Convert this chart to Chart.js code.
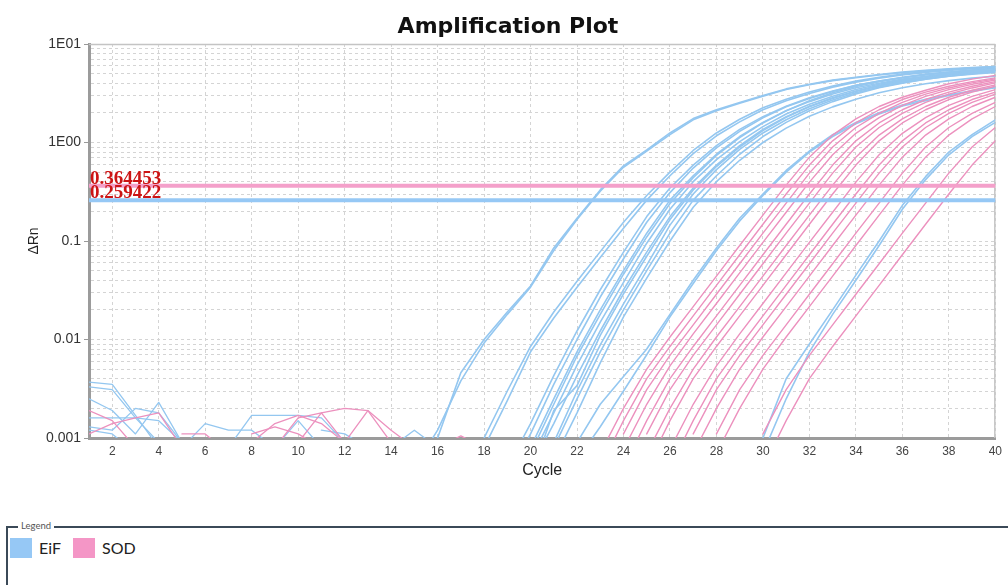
<!DOCTYPE html>
<html>
<head>
<meta charset="utf-8">
<script src="https://cdn.jsdelivr.net/npm/chart.js@4.4.0/dist/chart.umd.min.js"></script>
<style>
  html, body { margin:0; padding:0; background:#fff; width:1008px; height:585px; overflow:hidden; }
  #chartBox { position:absolute; left:0; top:0; width:1008px; height:500px; }
  #lgFrame { position:absolute; left:6px; top:526px; width:1010px; height:70px; border-top:2px solid #3b4a58; border-left:2px solid #3b4a58; }
  #lgTitle { position:absolute; left:18px; top:520px; font:9.5px "Lato", sans-serif; color:#555; background:#fff; padding:0 3px; line-height:12px; }
  .sw { position:absolute; top:538px; width:22px; height:20px; }
  .lt { position:absolute; top:538px; font:16px "Lato", sans-serif; color:#222; line-height:20px; }
</style>
</head>
<body>
<div id="chartBox"><canvas id="c" width="1008" height="500"></canvas></div>
<div id="lgFrame"></div>
<div id="lgTitle">Legend</div>
<div id="lgItems"></div>
<script>
// ---------------- data ----------------
const chartTitle = 'Amplification Plot';
const xTitle = 'Cycle';
const yTitle = '\u0394Rn';
const cycleMin = 1;
const cycleMax = 40;
const xTickValues = [2,4,6,8,10,12,14,16,18,20,22,24,26,28,30,32,34,36,38,40];
const yTickValues = [0.001,0.002,0.003,0.004,0.005,0.006,0.007,0.008,0.009,
                     0.01,0.02,0.03,0.04,0.05,0.06,0.07,0.08,0.09,
                     0.1,0.2,0.3,0.4,0.5,0.6,0.7,0.8,0.9,
                     1,2,3,4,5,6,7,8,9,10];
const yMajorValues = [0.001, 0.01, 0.1, 1, 10];
const yMajorLabels = ['0.001', '0.01', '0.1', '1E00', '1E01'];

const targetNames = ['EiF', 'SOD'];
const thresholdValues = [0.364453, 0.259422];
const thresholdLabels = ['0.364453', '0.259422'];

// EiF amplification curves: first cycle of each curve and its ΔRn values
const eifStart = [15, 15, 18, 18, 19, 19, 19, 19, 20, 20, 20, 20, 20, 21, 22, 22, 30, 30];
const eifValues = [
  [0.0006,0.001,0.0046,0.010,0.019,0.035,0.085,0.17,0.33,0.58,0.84,1.25,1.75,2.15,2.55,3.0,3.5,3.9,4.3,4.6,4.9,5.2,5.4,5.6,5.75,5.9],
  [0.0005,0.0012,0.0038,0.0092,0.018,0.034,0.08,0.165,0.32,0.56,0.82,1.2,1.7,2.1,2.5,2.95,3.45,3.85,4.25,4.55,4.85,5.1,5.35,5.55,5.7,5.85],
  [0.0008,0.0024,0.0075,0.0165,0.034,0.068,0.135,0.26,0.46,0.77,1.17,1.62,2.15,2.65,3.15,3.65,4.1,4.5,4.85,5.15,5.4,5.6,5.8],
  [0.001,0.003,0.0085,0.019,0.039,0.078,0.155,0.29,0.5,0.83,1.25,1.72,2.25,2.75,3.25,3.75,4.2,4.6,4.95,5.25,5.5,5.7,5.9],
  [0.0005,0.0014,0.0043,0.0122,0.032,0.077,0.177,0.345,0.59,0.93,1.36,1.83,2.34,2.84,3.34,3.8,4.2,4.55,4.85,5.1,5.3,5.48],
  [0.0004,0.0011,0.0035,0.01,0.027,0.066,0.155,0.31,0.55,0.88,1.3,1.78,2.3,2.8,3.3,3.8,4.2,4.6,4.95,5.2,5.45,5.65],
  [0.0003,0.0008,0.0025,0.0075,0.02,0.05,0.12,0.26,0.46,0.76,1.15,1.6,2.1,2.6,3.1,3.6,4.0,4.4,4.7,5.0,5.2,5.4],
  [0.0003,0.0007,0.0022,0.0068,0.018,0.046,0.11,0.24,0.44,0.74,1.12,1.58,2.1,2.65,3.2,3.7,4.15,4.55,4.9,5.2,5.45,5.65],
  [0.0006,0.0018,0.0055,0.015,0.038,0.095,0.21,0.4,0.67,1.02,1.45,1.95,2.45,2.95,3.45,3.9,4.3,4.65,4.95,5.2,5.4],
  [0.0005,0.0014,0.0043,0.0122,0.032,0.077,0.177,0.345,0.59,0.93,1.36,1.83,2.34,2.84,3.34,3.8,4.2,4.55,4.85,5.1,5.3],
  [0.0004,0.0019,0.0034,0.011,0.029,0.07,0.165,0.33,0.57,0.9,1.32,1.8,2.3,2.8,3.3,3.75,4.15,4.5,4.85,5.1,5.35],
  [0.0003,0.0009,0.003,0.0088,0.023,0.057,0.145,0.3,0.53,0.85,1.25,1.7,2.2,2.7,3.2,3.65,4.05,4.4,4.7,4.95,5.15],
  [0.0003,0.0008,0.0025,0.0075,0.02,0.05,0.12,0.26,0.46,0.76,1.15,1.6,2.1,2.6,3.1,3.6,4.0,4.4,4.7,5.0,5.2],
  [0.0006,0.0018,0.0058,0.017,0.042,0.1,0.22,0.4,0.66,1.0,1.4,1.85,2.3,2.75,3.2,3.6,3.95,4.25,4.5,4.7],
  [0.0006,0.0013,0.003,0.007,0.017,0.037,0.08,0.16,0.29,0.5,0.8,1.15,1.55,1.95,2.35,2.65,3.0,3.3,3.6],
  [0.0009,0.0022,0.0042,0.008,0.018,0.04,0.085,0.17,0.3,0.52,0.82,1.2,1.6,2.0,2.4,2.75,3.05,3.35,3.65],
  [0.001,0.004,0.009,0.02,0.045,0.1,0.23,0.45,0.8,1.2,1.7],
  [0.0007,0.0025,0.0075,0.018,0.04,0.09,0.21,0.42,0.75,1.15,1.6]
];

// SOD amplification curves
const sodStart = [23, 23, 24, 24, 24, 25, 25, 25, 26, 26, 27, 27, 28, 28, 30, 30];
const sodValues = [
  [0.0007,0.002,0.005,0.0106,0.0216,0.044,0.09,0.183,0.369,0.71,1.19,1.74,2.32,2.88,3.39,3.95,4.4,4.8],
  [0.0005,0.0015,0.004,0.0085,0.0174,0.0355,0.0725,0.148,0.30,0.59,1.04,1.58,2.15,2.73,3.25,3.72,4.15,4.53],
  [0.0011,0.0031,0.0069,0.0141,0.0288,0.0587,0.12,0.242,0.489,0.90,1.42,1.98,2.56,3.10,3.58,4.03,4.43],
  [0.00077,0.0022,0.0054,0.0114,0.0232,0.0474,0.0968,0.196,0.396,0.75,1.24,1.79,2.38,2.94,3.44,3.89,4.31],
  [0.0005,0.0015,0.004,0.0085,0.0174,0.0355,0.0725,0.148,0.30,0.59,1.04,1.58,2.15,2.73,3.25,3.72,4.15],
  [0.0011,0.0031,0.0069,0.0141,0.0288,0.0587,0.12,0.242,0.489,0.90,1.42,1.98,2.56,3.10,3.58,4.03],
  [0.0007,0.002,0.005,0.0106,0.0216,0.044,0.09,0.183,0.369,0.71,1.19,1.74,2.32,2.88,3.39,3.85],
  [0.0005,0.0015,0.004,0.0085,0.0174,0.0355,0.0725,0.148,0.30,0.59,1.04,1.58,2.15,2.73,3.25,3.72],
  [0.00077,0.0022,0.0054,0.0114,0.0232,0.0474,0.0968,0.196,0.396,0.75,1.24,1.79,2.38,2.94,3.44],
  [0.0005,0.0015,0.004,0.0085,0.0174,0.0355,0.0725,0.148,0.30,0.59,1.04,1.58,2.15,2.73,3.25],
  [0.0011,0.0031,0.0069,0.0141,0.0288,0.0587,0.12,0.242,0.489,0.90,1.42,1.98,2.56,3.10],
  [0.0007,0.002,0.005,0.0106,0.0216,0.044,0.09,0.183,0.369,0.71,1.19,1.74,2.32,2.88],
  [0.0011,0.0031,0.0069,0.0141,0.0288,0.0587,0.12,0.242,0.489,0.90,1.42,1.98,2.56],
  [0.0007,0.002,0.005,0.0106,0.0216,0.044,0.09,0.183,0.369,0.71,1.19,1.74,2.32],
  [0.0011,0.0031,0.0069,0.0141,0.0288,0.0587,0.12,0.242,0.489,0.90,1.42],
  [0.0005,0.0015,0.004,0.0085,0.0174,0.0355,0.0725,0.148,0.30,0.59,1.04]
];

// baseline noise segments
const eifNoiseStart = [1, 1, 1, 1, 1, 1, 5, 7, 9, 11, 14];
const eifNoiseValues = [
  [0.0037,0.0035,0.0017,0.0008],
  [0.0033,0.0031,0.0016,0.0009],
  [0.0025,0.0019,0.0011,0.0023,0.0009],
  [0.0016,0.0016,0.0016,0.0015,0.0009],
  [0.0013,0.0012,0.002,0.0018,0.0009],
  [0.0012,0.0011,0.0007],
  [0.0008,0.0014,0.0012,0.0012,0.0008],
  [0.0008,0.0017,0.0017,0.0017,0.0016,0.0009],
  [0.0008,0.0015,0.0008],
  [0.0012,0.0011,0.0008],
  [0.0008,0.0012,0.0008]
];
const sodNoiseStart = [1, 1, 5, 8, 8, 9, 10, 12, 16];
const sodNoiseValues = [
  [0.0019,0.0015,0.0008],
  [0.0011,0.0014,0.0016,0.0018,0.0008],
  [0.0011,0.0011,0.0007],
  [0.0009,0.0014,0.0017,0.0014,0.0009],
  [0.0011,0.0013,0.0011,0.0008],
  [0.0008,0.0016,0.0018,0.002,0.0019,0.0012,0.0008],
  [0.0009,0.0018,0.0009],
  [0.0009,0.0019,0.0009],
  [0.0008,0.00105,0.0008]
];

// ---------------- style ----------------
const eifColor = 'rgb(148,199,240)';
const sodColor = 'rgb(236,145,190)';
const thresholdColors = ['rgb(244,160,202)', 'rgb(150,200,245)'];
const swatchColors = ['rgb(150,200,245)', 'rgb(244,150,198)'];

// ---------------- legend (html) ----------------
(function(){
  const host = document.getElementById('lgItems');
  const sx = [10, 73], tx = [39, 102];
  targetNames.forEach((n, i) => {
    const s = document.createElement('div'); s.className = 'sw';
    s.style.left = sx[i] + 'px'; s.style.background = swatchColors[i]; host.appendChild(s);
    const t = document.createElement('div'); t.className = 'lt';
    t.style.left = tx[i] + 'px'; t.textContent = n; host.appendChild(t);
  });
})();

// ---------------- datasets ----------------
const toPoints = (start, vals) => vals.map((v, j) => ({x: start + j, y: v}));
const datasets = [];
thresholdValues.forEach((t, i) => datasets.push({
  data: [{x: cycleMin, y: t}, {x: cycleMax, y: t}],
  borderColor: thresholdColors[i], borderWidth: 4, order: 0
}));
sodValues.forEach((v, i) => datasets.push({data: toPoints(sodStart[i], v), borderColor: sodColor, borderWidth: 1.4, order: 1}));
sodNoiseValues.forEach((v, i) => datasets.push({data: toPoints(sodNoiseStart[i], v), borderColor: sodColor, borderWidth: 1.3, order: 1}));
eifValues.forEach((v, i) => datasets.push({data: toPoints(eifStart[i], v), borderColor: eifColor, borderWidth: 1.6, order: 2}));
eifNoiseValues.forEach((v, i) => datasets.push({data: toPoints(eifNoiseStart[i], v), borderColor: eifColor, borderWidth: 1.3, order: 2}));

// ---------------- plugins ----------------
const decorations = {
  id: 'decorations',
  beforeDatasetsDraw(chart) {
    const {ctx, chartArea: a} = chart;
    ctx.save();
    ctx.strokeStyle = '#c4c4c4';
    ctx.lineWidth = 1.5;
    ctx.beginPath();
    ctx.moveTo(a.left, a.top + 0.5); ctx.lineTo(a.right, a.top + 0.5);
    ctx.moveTo(a.right - 0.5, a.top); ctx.lineTo(a.right - 0.5, a.bottom);
    ctx.stroke();
    ctx.restore();
  },
  afterDraw(chart) {
    const {ctx, chartArea: a, scales} = chart;
    ctx.save();
    // title
    ctx.fillStyle = '#111';
    ctx.font = 'bold 22px "DejaVu Sans", sans-serif';
    ctx.textAlign = 'center';
    ctx.textBaseline = 'alphabetic';
    ctx.fillText(chartTitle, chart.width / 2 + 4, 33);
    // threshold labels
    ctx.fillStyle = '#cc1414';
    ctx.font = 'bold 19px "Liberation Serif", serif';
    ctx.textAlign = 'left';
    thresholdValues.forEach((t, i) => {
      ctx.fillText(thresholdLabels[i], a.left + 1, scales.y.getPixelForValue(t) - 2);
    });
    // axis titles
    ctx.fillStyle = '#222';
    ctx.font = '16px "Liberation Sans", Arial, sans-serif';
    ctx.textAlign = 'center';
    ctx.fillText(xTitle, (a.left + a.right) / 2, 475);
    ctx.translate(38, (a.top + a.bottom) / 2);
    ctx.rotate(-Math.PI / 2);
    ctx.font = '14px "Liberation Sans", Arial, sans-serif';
    ctx.fillText(yTitle, 0, 0);
    ctx.restore();
  }
};

new Chart(document.getElementById('c'), {
  type: 'line',
  data: { datasets },
  options: {
    responsive: false,
    animation: false,
    events: [],
    layout: { padding: { top: 44, right: 5, left: 0, bottom: 0 } },
    plugins: { legend: { display: false }, tooltip: { enabled: false }, title: { display: false } },
    elements: { point: { radius: 0 }, line: { tension: 0, borderJoinStyle: 'round', borderCapStyle: 'round' } },
    scales: {
      x: {
        type: 'linear', min: cycleMin, max: cycleMax,
        afterBuildTicks: s => { s.ticks = xTickValues.map(v => ({value: v})); },
        afterFit: s => { s.height = 62; },
        ticks: { autoSkip: false, maxRotation: 0, padding: 6, color: '#444',
                 font: { family: '"Liberation Sans", Arial, sans-serif', size: 12 },
                 callback: v => String(v) },
        grid: { color: '#d4d4d4', lineWidth: 1, drawTicks: false },
        border: { color: '#9b9b9b', width: 3, dash: [3, 3] }
      },
      y: {
        type: 'logarithmic', min: yMajorValues[0], max: yMajorValues[yMajorValues.length - 1],
        afterBuildTicks: s => { s.ticks = yTickValues.map(v => ({value: v})); },
        afterFit: s => { s.width = 89; },
        ticks: { autoSkip: false, padding: 3, color: '#333',
                 font: { family: '"Liberation Sans", Arial, sans-serif', size: 14 },
                 callback: v => { const k = yMajorValues.indexOf(v); return k >= 0 ? yMajorLabels[k] : ''; } },
        grid: { color: '#d4d4d4', lineWidth: 1, tickLength: 5,
                tickColor: c => (c.tick && yMajorValues.indexOf(c.tick.value) >= 0) ? '#999' : 'rgba(0,0,0,0)' },
        border: { color: '#9b9b9b', width: 3, dash: [3, 3] }
      }
    }
  },
  plugins: [decorations]
});
</script>
</body>
</html>
